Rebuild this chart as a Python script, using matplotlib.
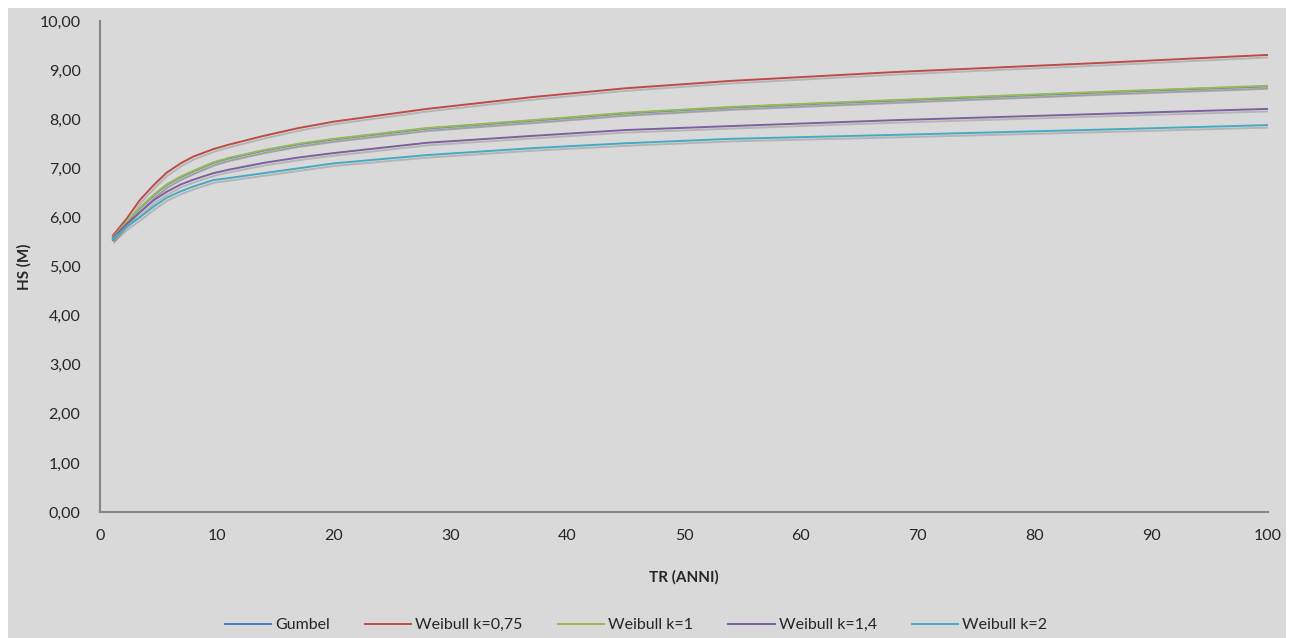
import matplotlib.pyplot as plt
import matplotlib.patheffects as pe
from matplotlib.lines import Line2D
from matplotlib.patches import Rectangle
from matplotlib.ticker import FuncFormatter

# tempi di ritorno (anni) e altezze d'onda
tr = [1.1, 2.3, 3.4, 4.6, 5.7, 6.9, 8, 9.7, 11, 14, 17, 20, 28, 37, 45, 54, 68, 86, 100]
gumbel = [5.54, 5.90, 6.18, 6.45, 6.66, 6.82, 6.94, 7.11, 7.20, 7.36, 7.49, 7.59, 7.81, 7.97, 8.12, 8.24, 8.38, 8.55, 8.67]
weib_075 = [5.63, 5.98, 6.35, 6.66, 6.91, 7.10, 7.24, 7.39, 7.48, 7.66, 7.82, 7.95, 8.21, 8.45, 8.63, 8.78, 8.96, 9.15, 9.31]
weib_1 = [5.60, 5.91, 6.19, 6.46, 6.67, 6.83, 6.95, 7.12, 7.21, 7.37, 7.50, 7.60, 7.82, 7.98, 8.13, 8.25, 8.39, 8.56, 8.68]
weib_14 = [5.58, 5.87, 6.10, 6.35, 6.52, 6.67, 6.77, 6.90, 6.97, 7.11, 7.22, 7.31, 7.52, 7.66, 7.78, 7.86, 7.98, 8.11, 8.21]
weib_2 = [5.56, 5.81, 6.00, 6.22, 6.40, 6.53, 6.63, 6.76, 6.80, 6.90, 7.00, 7.10, 7.27, 7.41, 7.51, 7.60, 7.68, 7.79, 7.88]

serie = [
    ("Gumbel", gumbel, "#4A7EBB"),
    ("Weibull k=0,75", weib_075, "#BE4B48"),
    ("Weibull k=1", weib_1, "#98B954"),
    ("Weibull k=1,4", weib_14, "#7D60A0"),
    ("Weibull k=2", weib_2, "#46AAC5"),
]

plt.rcParams['font.family'] = ['Lato', 'DejaVu Sans']
grigio = "#D9D9D9"

fig = plt.figure(figsize=(12.98, 6.38), dpi=100, facecolor="white")
fig.patches.append(Rectangle((8 / 1298, 0), 1278 / 1298, 630 / 638,
                             transform=fig.transFigure, facecolor=grigio,
                             edgecolor="none", zorder=-10))

ax = fig.add_axes([100 / 1298, 126 / 638, 1168 / 1298, 491 / 638])
ax.set_facecolor(grigio)

ombra = [pe.SimpleLineShadow(offset=(1.0, -1.8), shadow_color="#808080", alpha=0.4), pe.Normal()]
maniglie = []
for nome, valori, colore in serie:
    ax.plot(tr, valori, color=colore, lw=1.4, path_effects=ombra, solid_joinstyle="round")
    maniglie.append(Line2D([], [], color=colore, lw=1.4, label=nome))

ax.set_xlim(0, 100)
ax.set_ylim(0, 10)
ax.set_xticks(range(0, 101, 10))
ax.set_yticks(range(0, 11))
ax.yaxis.set_major_formatter(FuncFormatter(lambda v, p: f"{v:.2f}".replace(".", ",")))

for s in ["top", "right"]:
    ax.spines[s].set_visible(False)
for s in ["left", "bottom"]:
    ax.spines[s].set_color("#868686")
    ax.spines[s].set_linewidth(1.5)
ax.tick_params(length=0, labelsize=11.5, colors="#262626")
ax.tick_params(axis="y", pad=14)
ax.tick_params(axis="x", pad=12)

ax.set_xlabel("TR (ANNI)", fontsize=11, fontweight="bold", color="#262626", labelpad=20)
ax.set_ylabel("HS (M)", fontsize=11, fontweight="bold", color="#262626", labelpad=6)

ax.legend(handles=maniglie, loc="center", bbox_to_anchor=(636 / 1298, 13 / 638),
          bbox_transform=fig.transFigure, ncol=5, frameon=False, fontsize=11.5,
          handlelength=2.9, handletextpad=0.25, columnspacing=2.2, labelcolor="#262626")

fig.savefig("out.png", dpi=100, facecolor="white")
